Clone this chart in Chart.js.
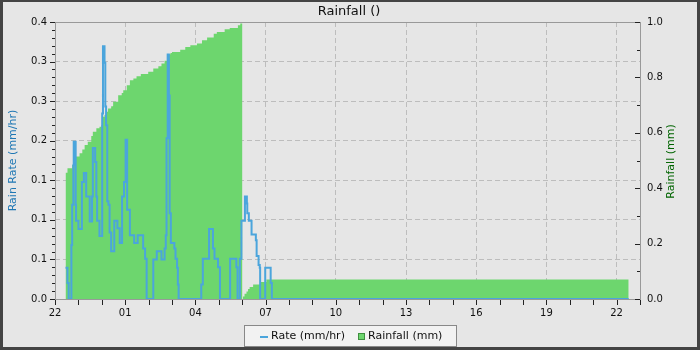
<!DOCTYPE html>
<html>
<head>
<meta charset="utf-8">
<script src="https://cdn.jsdelivr.net/npm/chart.js@4.4.0/dist/chart.umd.min.js"></script>
<style>
  html, body { margin: 0; padding: 0; background: #e6e6e6; }
  canvas { display: block; }
</style>
</head>
<body>
<canvas id="graphic" width="700" height="350"></canvas>
<script>
// minutes after 22:00 where each step starts
const rateMinutes = [27, 32, 35, 42, 44, 47, 48, 53, 54, 60, 69, 74, 80, 89, 95, 97, 103, 106, 108, 114,
  121, 123, 127, 129, 131, 134, 137, 140, 144, 152, 160, 166, 172, 177, 181, 185, 192, 203, 212, 226,
  231, 235, 252, 261, 273, 281, 284, 286, 289, 292, 294, 297, 306, 309, 313, 315, 317, 375, 379, 395,
  405, 409, 418, 423, 449, 465, 468, 474, 478, 487, 492, 493, 497, 504, 515, 517, 522, 525, 526, 539,
  553, 556, 1471];
const rateValues = [0.045, 0.023, 0, 0.078, 0.136, 0.193, 0.227, 0.136, 0.113, 0.101, 0.169, 0.182, 0.148, 0.112, 0.148, 0.218, 0.198, 0.148, 0.113, 0.091,
  0.268, 0.365, 0.341, 0.278, 0.251, 0.141, 0.136, 0.096, 0.069, 0.113, 0.102, 0.081, 0.148, 0.169, 0.230, 0.129, 0.092, 0.081, 0.092, 0.073,
  0.058, 0, 0.057, 0.069, 0.057, 0.073, 0.092, 0.232, 0.353, 0.294, 0.124, 0.081, 0.073, 0.058, 0.045, 0.021, 0, 0.021, 0.058, 0.101,
  0.073, 0.058, 0.046, 0, 0.058, 0.046, 0, 0.058, 0.113, 0.148, 0.138, 0.124, 0.113, 0.093, 0.085, 0.062, 0.049, 0.045, 0, 0.045,
  0.023, 0, 0];

const rainMinutes = [27, 32, 44, 47, 63, 70, 76, 84, 93, 97, 106, 114, 119, 121, 127, 130, 136, 144, 149, 162,
  171, 175, 184, 192, 201, 209, 220, 239, 252, 265, 273, 281, 287, 296, 300, 321, 334, 347, 364, 377,
  390, 407, 415, 435, 448, 469, 475, 480, 482, 486, 491, 495, 499, 508, 527, 542, 1471];
const rainValues = [0.456, 0.472, 0.484, 0.514, 0.526, 0.540, 0.556, 0.568, 0.588, 0.604, 0.616, 0.622, 0.628, 0.658, 0.664, 0.676, 0.688, 0.696, 0.712, 0.736,
  0.744, 0.754, 0.772, 0.790, 0.796, 0.804, 0.812, 0.820, 0.832, 0.840, 0.850, 0.860, 0.884, 0.888, 0.892, 0.900, 0.910, 0.916, 0.922, 0.934,
  0.944, 0.958, 0.964, 0.974, 0.978, 0.988, 0.995, 0, 0.009, 0.019, 0.027, 0.036, 0.043, 0.052, 0.061, 0.070, 0.070];

const rateTickLabels = ["0.0", "0.1", "0.1", "0.1", "0.2", "0.3", "0.3", "0.4"];
const rainTickLabels = ["0.0", "0.2", "0.4", "0.6", "0.8", "1.0"];
const hourLabels = ["22", "01", "04", "07", "10", "13", "16", "19", "22"];
const hourTicks = [];
for (let m = 0; m <= 1500; m += 60) hourTicks.push(m);

const FONT = "'DejaVu Sans', sans-serif";
Chart.defaults.font.family = FONT;
Chart.defaults.font.size = 10;
Chart.defaults.color = "#111";

const GRID = "#bdbdbd";

const frame = {
  id: "frame",
  beforeDraw(chart) {
    const ctx = chart.ctx;
    ctx.save();
    ctx.fillStyle = "#444";
    ctx.fillRect(0, 0, chart.width, chart.height);
    ctx.fillStyle = "#e6e6e6";
    ctx.fillRect(3, 2, chart.width - 6, chart.height - 5);
    ctx.restore();
  },
  afterDraw(chart) {
    const { ctx, chartArea: a, scales } = chart;
    ctx.save();
    ctx.lineWidth = 1;
    ctx.strokeStyle = "#999";
    ctx.strokeRect(a.left + 0.5, a.top + 0.5, a.right - a.left, a.bottom - a.top);

    // tick marks
    ctx.strokeStyle = "#222";
    ctx.beginPath();
    scales.x.ticks.forEach((t) => {
      const x = Math.round(scales.x.getPixelForValue(t.value)) + 0.5;
      ctx.moveTo(x, a.bottom + 1);
      ctx.lineTo(x, a.bottom + 6);
    });
    const steps = (rateTickLabels.length - 1) * 5;
    for (let i = 0; i <= steps; i++) {
      const y = Math.round(scales.y.getPixelForValue((0.4 * i) / steps)) + 0.5;
      const len = i % 5 === 0 ? 5 : 3;
      ctx.moveTo(a.left - len, y);
      ctx.lineTo(a.left, y);
    }
    for (let i = 0; i <= 10; i++) {
      const y = Math.round(scales.y1.getPixelForValue(i / 10)) + 0.5;
      const len = i % 2 === 0 ? 5 : 3;
      ctx.moveTo(a.right - len, y);
      ctx.lineTo(a.right, y);
    }
    ctx.stroke();

    // title
    ctx.fillStyle = "#111";
    ctx.font = "13px " + FONT;
    ctx.textAlign = "center";
    ctx.textBaseline = "middle";
    ctx.fillText("Rainfall ()", 349, 12);

    // right axis title, reads bottom to top like the left one
    ctx.save();
    ctx.translate(671, (a.top + a.bottom) / 2 + 1);
    ctx.rotate(-Math.PI / 2);
    ctx.fillStyle = "#006400";
    ctx.font = "11px " + FONT;
    ctx.fillText("Rainfall (mm)", 0, 0);
    ctx.restore();

    // legend
    const ds = chart.data.datasets;
    ctx.fillStyle = "#f2f2f2";
    ctx.fillRect(244, 325, 212, 21);
    ctx.strokeStyle = "#888";
    ctx.strokeRect(244.5, 325.5, 212, 21);
    ctx.strokeStyle = ds[0].borderColor;
    ctx.lineWidth = 2;
    ctx.beginPath();
    ctx.moveTo(260, 337);
    ctx.lineTo(268, 337);
    ctx.stroke();
    ctx.fillStyle = ds[1].backgroundColor;
    ctx.fillRect(358, 333, 6, 6);
    ctx.lineWidth = 1;
    ctx.strokeStyle = "#3f8f3f";
    ctx.strokeRect(358.5, 333.5, 6, 6);
    ctx.fillStyle = "#111";
    ctx.font = "11px " + FONT;
    ctx.textAlign = "left";
    ctx.fillText(ds[0].label, 271, 336);
    ctx.fillText(ds[1].label, 368, 336);
    ctx.restore();
  },
};

new Chart(document.getElementById("graphic"), {
  type: "line",
  data: {
    datasets: [
      {
        label: "Rate (mm/hr)",
        data: rateMinutes.map((m, i) => ({ x: m, y: rateValues[i] })),
        yAxisID: "y",
        stepped: true,
        borderColor: "#4ba5dc",
        borderWidth: 2,
        pointRadius: 0,
        fill: false,
      },
      {
        label: "Rainfall (mm)",
        data: rainMinutes.map((m, i) => ({ x: m, y: rainValues[i] })),
        yAxisID: "y1",
        stepped: true,
        borderWidth: 0,
        borderColor: "rgba(0,0,0,0)",
        backgroundColor: "#6dd66e",
        pointRadius: 0,
        fill: "origin",
      },
    ],
  },
  options: {
    responsive: false,
    animation: false,
    devicePixelRatio: 1,
    layout: { padding: { top: 22, left: 0, right: 0, bottom: 0 } },
    plugins: {
      legend: { display: false },
      title: { display: false },
      tooltip: { enabled: false },
    },
    scales: {
      x: {
        type: "linear",
        min: 0,
        max: 1500,
        afterBuildTicks: (s) => {
          s.ticks = hourTicks.map((v) => ({ value: v }));
        },
        afterFit: (s) => {
          s.height = 51;
        },
        grid: {
          drawTicks: false,
          color: (c) =>
            c.tick && c.tick.value % 180 === 0 && c.tick.value > 0 && c.tick.value < 1500
              ? GRID
              : "rgba(0,0,0,0)",
        },
        border: { display: false, dash: [5, 3] },
        ticks: {
          autoSkip: false,
          maxRotation: 0,
          padding: 8,
          callback: (v) => (v % 180 === 0 ? hourLabels[v / 180] : ""),
        },
      },
      y: {
        position: "left",
        min: 0,
        max: 0.4,
        afterBuildTicks: (s) => {
          s.ticks = rateTickLabels.map((l, i) => ({ value: (0.4 * i) / (rateTickLabels.length - 1) }));
        },
        afterFit: (s) => {
          s.width = 55;
        },
        grid: {
          drawTicks: false,
          color: (c) => (c.index > 0 && c.index < rateTickLabels.length - 1 ? GRID : "rgba(0,0,0,0)"),
        },
        border: { display: false, dash: [5, 3] },
        ticks: {
          padding: 8,
          callback: (v, i) => rateTickLabels[i],
        },
        title: {
          display: true,
          text: "Rain Rate (mm/hr)",
          color: "#1f77b4",
          font: { size: 11 },
          padding: { top: 7, bottom: 0 },
        },
      },
      y1: {
        position: "right",
        min: 0,
        max: 1,
        afterBuildTicks: (s) => {
          s.ticks = rainTickLabels.map((l) => ({ value: Number(l) }));
        },
        afterFit: (s) => {
          s.width = 60;
        },
        grid: { drawOnChartArea: false, drawTicks: false },
        border: { display: false },
        ticks: {
          padding: 7,
          callback: (v, i) => rainTickLabels[i],
        },
      },
    },
  },
  plugins: [frame],
});
</script>
</body>
</html>
